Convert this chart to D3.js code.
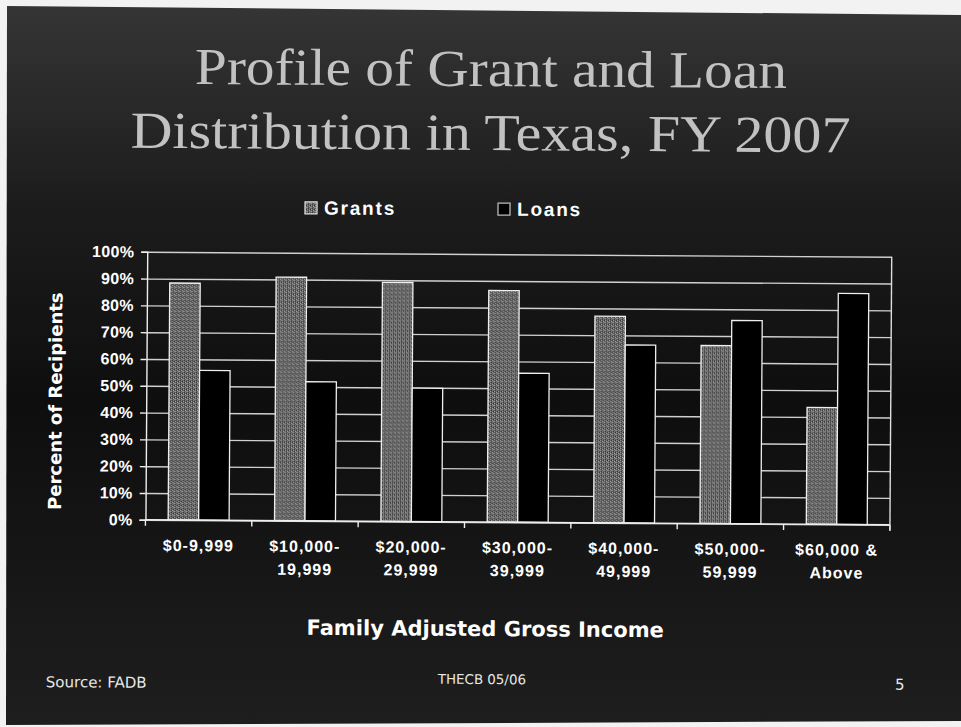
<!DOCTYPE html>
<html><head><meta charset="utf-8">
<script src="https://cdn.jsdelivr.net/npm/d3@7"></script>
<style>html,body{margin:0;padding:0;background:#f2f2f2;overflow:hidden}</style>
</head><body>
<script>
// ---- data ----
const categories = ["$0-9,999", "$10,000-\n19,999", "$20,000-\n29,999", "$30,000-\n39,999", "$40,000-\n49,999", "$50,000-\n59,999", "$60,000 &\nAbove"];
const seriesNames = ["Grants", "Loans"];
const grants = [88.4, 90.9, 89.2, 86.4, 77.1, 66.4, 43.6];
const loans  = [55.9, 51.9, 49.8, 55.6, 66.4, 75.8, 86.2];
const yTicks = [0, 10, 20, 30, 40, 50, 60, 70, 80, 90, 100];
const titleLines = ["Profile of Grant and Loan", "Distribution in Texas, FY 2007"];
const yTitle = "Percent of Recipients";
const xTitle = "Family Adjusted Gross Income";
const footerLeft = "Source: FADB";
const footerMid = "THECB 05/06";
const footerRight = "5";

const W = 961, H = 727;
const svg = d3.select("body").append("svg").attr("width", W).attr("height", H);
const defs = svg.append("defs");

const bg = defs.append("linearGradient").attr("id", "bg").attr("x1", 0).attr("y1", 0).attr("x2", 0).attr("y2", 1);
bg.append("stop").attr("offset", "0%").attr("stop-color", "#353535");
bg.append("stop").attr("offset", "28%").attr("stop-color", "#1c1c1c");
bg.append("stop").attr("offset", "55%").attr("stop-color", "#0e0e0e");
bg.append("stop").attr("offset", "100%").attr("stop-color", "#1e1e1e");

const pat = defs.append("pattern").attr("id", "stip").attr("width", 4).attr("height", 4).attr("patternUnits", "userSpaceOnUse");
pat.append("rect").attr("width", 4).attr("height", 4).attr("fill", "#5e5e5e");
[[0,0,"#b4b4b4"],[2,1,"#9a9a9a"],[1,3,"#2a2a2a"],[3,2,"#333"],[1,1,"#8a8a8a"],[3,0,"#3a3a3a"],[0,2,"#868686"],[2,3,"#a8a8a8"]]
  .forEach(([px, py, c]) => pat.append("rect").attr("x", px).attr("y", py).attr("width", 1).attr("height", 1).attr("fill", c));

// slide background (scanned page)
svg.append("polygon").attr("points", "7,6 961,15 961,721 6,725").attr("fill", "url(#bg)");

const g = svg.append("g").attr("transform", "rotate(0.38,480,363)");

// title
g.append("g").selectAll("text").data(titleLines).join("text")
  .attr("x", 489).attr("y", (d, i) => 86 + i * 64)
  .attr("text-anchor", "middle")
  .attr("textLength", (d, i) => i === 0 ? 592 : 720)
  .attr("lengthAdjust", "spacingAndGlyphs")
  .attr("font-family", "'Liberation Serif', 'DejaVu Serif', serif")
  .attr("font-size", 52).attr("fill", "#c2c2c2")
  .text(d => d);

// scales
const plot = {left: 146.5, right: 891, top: 254, bottom: 522};
const x = d3.scaleBand().domain(categories).range([plot.left, plot.right]).paddingInner(0.427).paddingOuter(0.2135);
const xs = d3.scaleBand().domain(seriesNames).range([0, x.bandwidth()]);
const y = d3.scaleLinear().domain([0, 100]).range([plot.bottom, plot.top]);

// gridlines
g.append("g").attr("transform", `translate(${plot.left},0)`)
  .call(d3.axisLeft(y).tickValues(yTicks).tickSize(-(plot.right - plot.left)).tickFormat(""))
  .call(s => s.select(".domain").remove())
  .call(s => s.selectAll("line").attr("stroke", "#d0d0d0").attr("stroke-width", 1.4));

// bars
const rows = categories.map((c, i) => ({c, vals: [{k: "Grants", v: grants[i]}, {k: "Loans", v: loans[i]}]}));
const grp = g.append("g").selectAll("g").data(rows).join("g").attr("transform", d => `translate(${x(d.c)},0)`);
grp.selectAll("rect").data(d => d.vals).join("rect")
  .attr("x", d => xs(d.k)).attr("width", xs.bandwidth())
  .attr("y", d => y(d.v)).attr("height", d => y(0) - y(d.v))
  .attr("fill", d => d.k === "Grants" ? "url(#stip)" : "#000")
  .attr("stroke", "#eeeeee").attr("stroke-width", 1.3);

// y axis
const yAx = g.append("g").attr("transform", `translate(${plot.left},0)`)
  .call(d3.axisLeft(y).tickValues(yTicks).tickSize(6).tickPadding(7).tickFormat(d => d + "%"));
yAx.select(".domain").attr("stroke", "#eeeeee").attr("stroke-width", 1.4);
yAx.selectAll("line").attr("stroke", "#eeeeee").attr("stroke-width", 1.4);
yAx.selectAll("text").attr("fill", "#fff").attr("font-family", "'Liberation Sans', Arial, sans-serif")
  .attr("font-weight", "bold").attr("font-size", 16).attr("letter-spacing", 0.3);

// x axis (ticks between categories)
const step = x.step(), gap = step - x.bandwidth();
const bounds = categories.map(c => x(c) - gap / 2).concat([x(categories[categories.length - 1]) + x.bandwidth() + gap / 2]);
const xAx = g.append("g");
xAx.append("line").attr("x1", plot.left).attr("x2", plot.right).attr("y1", y(0)).attr("y2", y(0))
  .attr("stroke", "#eeeeee").attr("stroke-width", 1.4);
xAx.selectAll("line.tk").data(bounds).join("line").attr("class", "tk")
  .attr("x1", d => d).attr("x2", d => d).attr("y1", y(0)).attr("y2", y(0) + 6)
  .attr("stroke", "#eeeeee").attr("stroke-width", 1.4);
// right border of plot
g.append("line").attr("x1", plot.right).attr("x2", plot.right).attr("y1", y(100)).attr("y2", y(0) + 6)
  .attr("stroke", "#dddddd").attr("stroke-width", 1.4);

const xl = g.append("g").selectAll("text").data(categories).join("text")
  .attr("x", d => x(d) + x.bandwidth() / 2).attr("y", 553)
  .attr("text-anchor", "middle").attr("fill", "#fff")
  .attr("font-family", "'Liberation Sans', Arial, sans-serif").attr("font-weight", "bold")
  .attr("font-size", 16).attr("letter-spacing", 1);
xl.each(function (d) {
  const t = d3.select(this);
  d.split("\n").forEach((ln, i) => t.append("tspan").attr("x", x(d) + x.bandwidth() / 2).attr("dy", i ? 23 : 0).text(ln));
});

// axis titles
g.append("text").attr("transform", "translate(62,404) rotate(-90)").attr("text-anchor", "middle")
  .attr("font-family", "'DejaVu Sans', Verdana, sans-serif").attr("font-weight", "bold")
  .attr("font-size", 18).attr("fill", "#fff").text(yTitle);
g.append("text").attr("x", 487).attr("y", 636).attr("text-anchor", "middle")
  .attr("font-family", "'DejaVu Sans', Verdana, sans-serif").attr("font-weight", "bold")
  .attr("font-size", 21).attr("fill", "#fff").text(xTitle);

// legend
const lg = g.append("g").selectAll("g").data(seriesNames).join("g")
  .attr("transform", (d, i) => `translate(${i ? 497 : 304},203)`);
lg.append("rect").attr("width", 12).attr("height", 12)
  .attr("fill", d => d === "Grants" ? "url(#stip)" : "#000")
  .attr("stroke", d => d === "Grants" ? "#ddd" : "#bbb").attr("stroke-width", 1.3);
lg.append("text").attr("x", 19).attr("y", 12.5).attr("fill", "#fff")
  .attr("font-family", "'Liberation Sans', Arial, sans-serif").attr("font-weight", "bold")
  .attr("font-size", 19).attr("letter-spacing", 1.8).text(d => d);

// footer
g.append("text").attr("x", 48).attr("y", 690).attr("fill", "#e8e8e8")
  .attr("font-family", "'DejaVu Sans', Verdana, sans-serif").attr("font-size", 15).text(footerLeft);
g.append("text").attr("x", 484).attr("y", 684).attr("text-anchor", "middle").attr("fill", "#e8e8e8")
  .attr("font-family", "'DejaVu Sans', Verdana, sans-serif").attr("font-size", 13.4).text(footerMid);
g.append("text").attr("x", 902).attr("y", 687).attr("text-anchor", "middle").attr("fill", "#e8e8e8")
  .attr("font-family", "'DejaVu Sans', Verdana, sans-serif").attr("font-size", 15).text(footerRight);
</script>
</body></html>
